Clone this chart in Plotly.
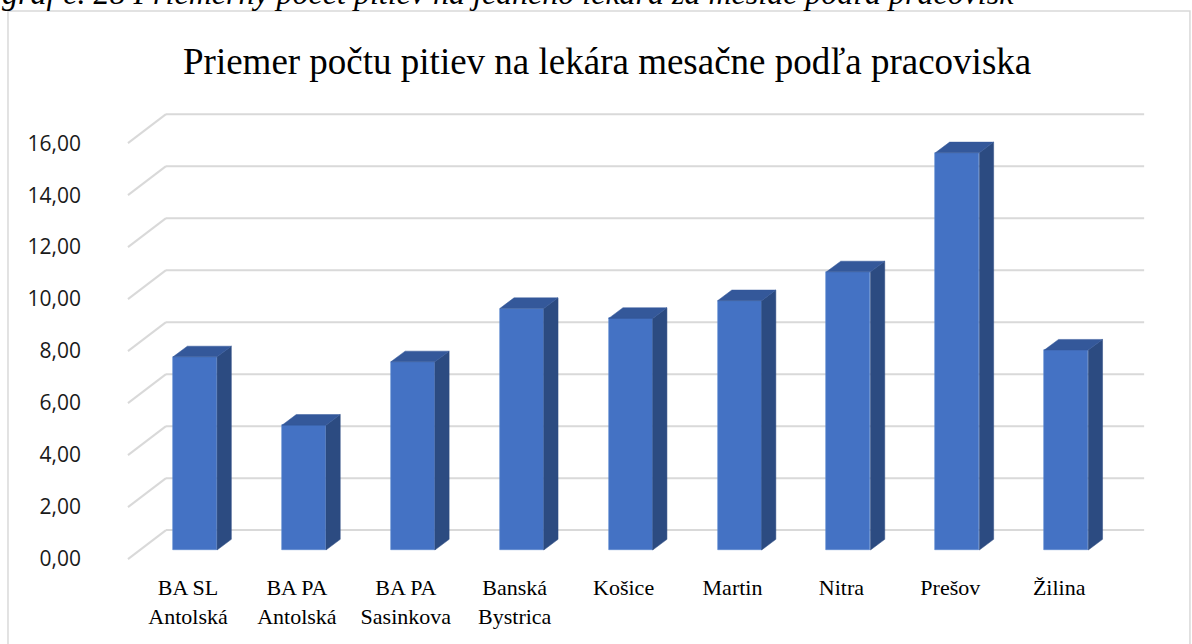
import plotly.graph_objects as go

# data
categories = ["BA SL<br>Antolská", "BA PA<br>Antolská", "BA PA<br>Sasinkova", "Banská<br>Bystrica",
              "Košice", "Martin", "Nitra", "Prešov", "Žilina"]
values = [7.43, 4.80, 7.24, 9.29, 8.91, 9.59, 10.70, 15.28, 7.69]
tick_values = [0, 2, 4, 6, 8, 10, 12, 14, 16]
tick_labels = ["0,00", "2,00", "4,00", "6,00", "8,00", "10,00", "12,00", "14,00", "16,00"]

title = "Priemer počtu pitiev na lekára mesačne podľa pracoviska"
caption = "graf č. 28 Priemerný počet pitiev na jedného lekára za mesiac podľa pracovísk"

# fake 3d geometry (in axis units)
bar_w = 0.404
bar_shift = 0.065          # bars sit a bit right of the label centre
dx, dy = 0.131, 0.41       # depth offset of a bar
wall_dx, wall_dy = 0.349, 1.115   # depth of the floor / back wall
front_x, front_y = -0.551, -0.35
wall_right = 8.78

FRONT = "#4472C4"
SIDE = "#2C4B81"
TOP = "#34589A"
GRID = "#D9D9D9"

fig = go.Figure()

xs = [i + bar_shift for i in range(len(values))]
fig.add_trace(go.Bar(x=xs, y=values, width=bar_w, marker=dict(color=FRONT, line=dict(width=0.6, color="#5A86D0")),
                     hoverinfo="y", showlegend=False))

for xc, v in zip(xs, values):
    xl, xr = xc - bar_w / 2, xc + bar_w / 2
    # side face
    fig.add_trace(go.Scatter(x=[xr, xr + dx, xr + dx, xr, xr], y=[0, dy, v + dy, v, 0],
                             fill="toself", fillcolor=SIDE, mode="lines", line=dict(width=0.5, color=SIDE),
                             hoverinfo="skip", showlegend=False))
    # top face
    fig.add_trace(go.Scatter(x=[xl, xl + dx, xr + dx, xr, xl], y=[v, v + dy, v + dy, v, v],
                             fill="toself", fillcolor=TOP, mode="lines", line=dict(width=0.5, color=TOP),
                             hoverinfo="skip", showlegend=False))

# gridlines on the back wall + slanted lines on the side wall
for t in tick_values:
    fig.add_shape(type="line", xref="x", yref="y", layer="below",
                  x0=front_x + wall_dx, x1=wall_right, y0=t + front_y + wall_dy, y1=t + front_y + wall_dy,
                  line=dict(color=GRID, width=2))
    fig.add_shape(type="line", xref="x", yref="y", layer="below",
                  x0=front_x, x1=front_x + wall_dx, y0=t + front_y, y1=t + front_y + wall_dy,
                  line=dict(color=GRID, width=2))

# chart frame
fig.add_shape(type="rect", xref="paper", yref="paper", x0=-0.1077, x1=1.0288, y0=-0.2, y1=1.191,
              line=dict(color=GRID, width=1.5), layer="below")

fig.add_annotation(text=title, xref="paper", yref="paper", x=0.468, y=1.082, xanchor="center", yanchor="middle",
                   showarrow=False, font=dict(family="Liberation Serif", size=37, color="#000000"))
# caption of the figure, mostly cut off by the top edge like in the source
fig.add_annotation(text="<i>" + caption + "</i>", xref="paper", yref="paper", x=-0.1154, y=1.186,
                   xanchor="left", yanchor="bottom", showarrow=False,
                   font=dict(family="Liberation Serif", size=32, color="#000000"))

fig.update_layout(
    width=1192, height=644,
    margin=dict(l=120, r=32, t=100, b=78),
    plot_bgcolor="white", paper_bgcolor="white",
    bargap=0,
    xaxis=dict(range=[-0.6244, 8.9256], tickvals=list(range(len(categories))), ticktext=categories,
               showgrid=False, zeroline=False, showline=False, ticks="", ticklabelstandoff=6,
               tickfont=dict(family="Liberation Serif", size=22, color="#000000")),
    yaxis=dict(range=[-0.615, 17.31], tickvals=[t + front_y for t in tick_values], ticktext=tick_labels,
               showgrid=False, zeroline=False, showline=False, ticks="", ticklabelstandoff=38,
               tickfont=dict(family="Open Sans", size=21, color="#1a1a1a")),
)

# the page's default body margin would shift the picture by 8px
fig.write_html("out.html", config={"displayModeBar": False},
               post_script="document.body.style.margin = '0';")
